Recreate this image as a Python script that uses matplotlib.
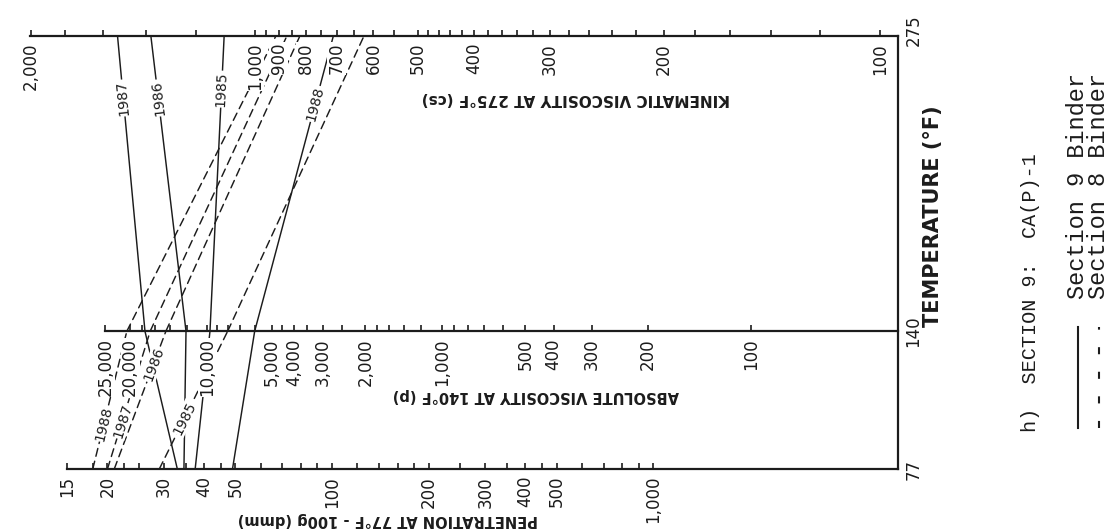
import numpy as np
import matplotlib
matplotlib.use("Agg")
import matplotlib.pyplot as plt
from matplotlib.patches import ConnectionPatch
from matplotlib.lines import Line2D
from matplotlib.ticker import NullLocator, NullFormatter

# ---------------- data ----------------
years = [1985, 1986, 1987, 1988]
temps = [77, 140, 275]            # deg F of the three scales
# Section 9 binder (solid)
s9_pen = [37.5, 34.6, 33, 49]           # penetration at 77F (dmm)
s9_abs = [9700, 12100, 17500, 6000]     # absolute viscosity at 140F (P)
s9_kin = [1100, 1380, 1530, 710]        # kinematic viscosity at 275F (cSt)
# Section 8 binder (dashed)
s8_pen = [29, 21, 20, 18]
s8_abs = [8000, 14500, 16700, 20600]
s8_kin = [624, 820, 868, 911]

kin_labels = [2000, 1000, 900, 800, 700, 600, 500, 400, 300, 200, 100]
abs_labels = [25000, 20000, 10000, 5000, 4000, 3000, 2000, 1000, 500, 400, 300, 200, 100]
pen_labels = [15, 20, 30, 40, 50, 100, 200, 300, 400, 500, 1000]

kin_ticks = list(range(100, 501, 20)) + list(range(550, 1001, 50)) + [1200, 1400, 1600, 1800, 2000]
abs_ticks = ([100, 200, 300, 400, 500, 600, 700, 800, 900, 1000, 1200, 1400, 1600, 1800,
              2000, 2500, 3000, 3500, 4000, 4500, 5000, 6000, 7000, 8000, 9000, 10000,
              12000, 14000, 16000, 18000, 20000, 25000])
pen_ticks = [15, 18, 20, 22.5, 25, 30, 35, 40, 45, 50, 60, 70, 80, 90, 100, 120, 140, 160,
             180, 200, 250, 300, 350, 400, 450, 500, 600, 700, 800, 900, 1000]

legend_labels = ["Section 9 Binder", "Section 8 Binder"]

# ---------------- chart scales (log-log viscosity graduations) ----------------
TOP_HI = 0.2096   # log-decade step used above 1,000 cs on the printed scale
MID_C = 0.7
MID_HI = 0.1133


def top_fwd(v):
    v = np.clip(np.asarray(v, float), 1.2, None)
    lg = np.log10(v)
    low = np.log10(lg)
    high = np.log10(3.0) + (lg - 3.0) * TOP_HI
    return np.where(v <= 1000, low, high)


def top_inv(L):
    L = np.asarray(L, float)
    Lc = np.log10(3.0)
    with np.errstate(over='ignore', invalid='ignore'):
        low = 10 ** (10 ** np.clip(L, -1, 0.7))
        high = 10 ** np.clip(3.0 + (L - Lc) / TOP_HI, -5, 10)
    return np.where(L <= Lc, low, high)


def mid_fwd(v):
    v = np.clip(np.asarray(v, float), 1.0, None)
    lg = np.log10(v)
    low = np.log10(lg + MID_C)
    high = np.log10(4 + MID_C) + (lg - 4) * MID_HI
    return np.where(v <= 1e4, low, high)


def mid_inv(L):
    L = np.asarray(L, float)
    Lc = np.log10(4 + MID_C)
    with np.errstate(over='ignore', invalid='ignore'):
        low = 10 ** np.clip(10 ** np.clip(L, -1, 0.8) - MID_C, -5, 10)
        high = 10 ** np.clip(4 + (L - Lc) / MID_HI, -5, 10)
    return np.where(L <= Lc, low, high)


# ---------------- figure ----------------
W, H = 1111, 529
fig = plt.figure(figsize=(W / 100, H / 100), dpi=100)
fig.patch.set_facecolor('white')

INK = '#1c1c1c'
x0, x1, ytop, ybot = 30, 898, 36, 469
ax = fig.add_axes([x0 / W, 1 - ybot / H, (x1 - x0) / W, (ybot - ytop) / H])
ax.set_ylim(temps[0], temps[-1])
ax.set_xlim(0, 1)
ax.set_xticks([])
ax.set_yticks([])
for s in ['left', 'top', 'bottom']:
    ax.spines[s].set_visible(False)
ax.spines['right'].set_linewidth(1.6)
ax.spines['right'].set_color(INK)
ax.patch.set_alpha(0)


def make_twin(scale_args, scale_kw, lim, side, spine_pos, bounds, ticks, direction):
    t = ax.twiny()
    t.set_xscale(*scale_args, **scale_kw)
    t.set_xlim(*lim)
    for s in t.spines.values():
        s.set_visible(False)
    sp = t.spines[side]
    sp.set_visible(True)
    sp.set_linewidth(1.6)
    sp.set_color(INK)
    if spine_pos is not None:
        sp.set_position(spine_pos)
    sp.set_bounds(*bounds)
    t.xaxis.set_ticks_position(side)
    t.set_xticks(ticks)
    t.xaxis.set_minor_locator(NullLocator())
    t.xaxis.set_minor_formatter(NullFormatter())
    t.tick_params(axis='x', which='major', direction=direction, length=4.5, width=1.2,
                  color=INK, labeltop=False, labelbottom=False)
    t.tick_params(axis='y', left=False, right=False, labelleft=False, labelright=False)
    t.patch.set_visible(False)
    return t


ax_top = make_twin(('function',), dict(functions=(top_fwd, top_inv)), (2006, 94.8),
                   'top', None, (2006, 94.8), kin_ticks, 'out')
ax_mid = make_twin(('function',), dict(functions=(mid_fwd, mid_inv)), (49200, 42.2),
                   'bottom', ('data', temps[1]), (25000, 42.2), abs_ticks, 'in')
ax_pen = make_twin(('log',), {}, (11.48, 5776),
                   'bottom', None, (15, 5776), pen_ticks, 'in')

# tick labels (rotated, masked)
lab_kw = dict(textcoords='offset points', rotation=90, ha='center', va='top', fontsize=12,
              color=INK, bbox=dict(fc='white', ec='none', pad=0.4), zorder=6)
for v in kin_labels:
    ax_top.annotate(f"{v:,}", xy=(v, temps[2]), xytext=(0, -5), **lab_kw)
for v in abs_labels:
    ax_mid.annotate(f"{v:,}", xy=(v, temps[1]), xytext=(0, -5), **lab_kw)
for v in pen_labels:
    ax_pen.annotate(f"{v:,}", xy=(v, temps[0]), xytext=(0, -5), **lab_kw)

# temperature labels
for T, dy in zip(temps, [0, 0, 4]):
    ax.annotate(str(T), xy=(1, T), xycoords=ax.get_yaxis_transform(), xytext=(11, dy),
                textcoords='offset points', rotation=90, ha='center', va='center',
                fontsize=12, color=INK)

# ---------------- lines ----------------
DASH = (0, (5.5, 3.5))


def connect(axA, pA, axB, pB, ls):
    con = ConnectionPatch(xyA=pA, coordsA='data', axesA=axA, xyB=pB, coordsB='data',
                          axesB=axB, color=INK, lw=1.05, linestyle=ls, zorder=2)
    ax.add_artist(con)


series = [(s9_pen, s9_abs, s9_kin, '-'), (s8_pen, s8_abs, s8_kin, DASH)]
for pen, ab, kin, ls in series:
    for p, a, k in zip(pen, ab, kin):
        connect(ax_pen, (p, temps[0]), ax_mid, (a, temps[1]), ls)
        connect(ax_mid, (a, temps[1]), ax_top, (k, temps[2]), ls)

# year labels: (segment, fraction along segment)
s9_label_pos = [('upper', 0.82), ('upper', 0.79), ('upper', 0.79), ('upper', 0.77)]
s8_label_pos = [('lower', 0.37), ('lower', 0.76), ('lower', 0.35), ('lower', 0.33)]


def year_label(pen, ab, kin, where, t, text):
    if where == 'lower':
        a = ax_pen.transData.transform((pen, temps[0]))
        b = ax_mid.transData.transform((ab, temps[1]))
    else:
        a = ax_mid.transData.transform((ab, temps[1]))
        b = ax_top.transData.transform((kin, temps[2]))
    p = a + t * (b - a)
    ang = np.degrees(np.arctan2(b[1] - a[1], b[0] - a[0]))
    fx, fy = fig.transFigure.inverted().transform(p)
    ax_pen.text(fx, fy, text, transform=fig.transFigure, rotation=ang,
                rotation_mode='anchor', ha='center', va='center', fontsize=10,
                color=INK, bbox=dict(fc='white', ec='none', pad=0.6), zorder=7)


for (pen, ab, kin, _), pos in zip(series, [s9_label_pos, s8_label_pos]):
    for y, p, a, k, (where, t) in zip(years, pen, ab, kin, pos):
        year_label(p, a, k, where, t, str(y))

# ---------------- titles ----------------
title_kw = dict(rotation=180, ha='center', va='center', fontweight='bold', color=INK)
fig.text(576 / W, 1 - 98 / H, "KINEMATIC VISCOSITY AT 275°F (cs)", fontsize=11, **title_kw)
fig.text(536 / W, 1 - 395 / H, "ABSOLUTE VISCOSITY AT 140°F (p)", fontsize=10.5, **title_kw)
fig.text(388 / W, 1 - 520 / H, "PENETRATION AT 77°F - 100g (dmm)", fontsize=10.5, **title_kw)
fig.text(933 / W, 1 - 216 / H, "TEMPERATURE (°F)", rotation=90, ha='center', va='center',
         fontsize=15, fontweight='bold', color=INK)

# ---------------- caption / legend ----------------
mono = dict(family='Liberation Mono', color=INK, rotation=90)
fig.text(1030 / W, 1 - 432 / H, "h)  SECTION 9:  CA(P)-1", ha='center', va='bottom',
         fontsize=14.5, **mono)
fig.add_artist(Line2D([1078 / W, 1078 / W], [1 - 428 / H, 1 - 327 / H], color=INK, lw=1.5))
fig.add_artist(Line2D([1099 / W, 1099 / W], [1 - 428 / H, 1 - 327 / H], color=INK, lw=1.5,
                      linestyle=(0, (3.4, 8.4))))
fig.text(1088 / W, 1 - 299 / H, "\n".join(legend_labels), ha='center', va='bottom',
         fontsize=17, linespacing=0.85, **mono)

fig.savefig("out.png", dpi=100, facecolor='white')
